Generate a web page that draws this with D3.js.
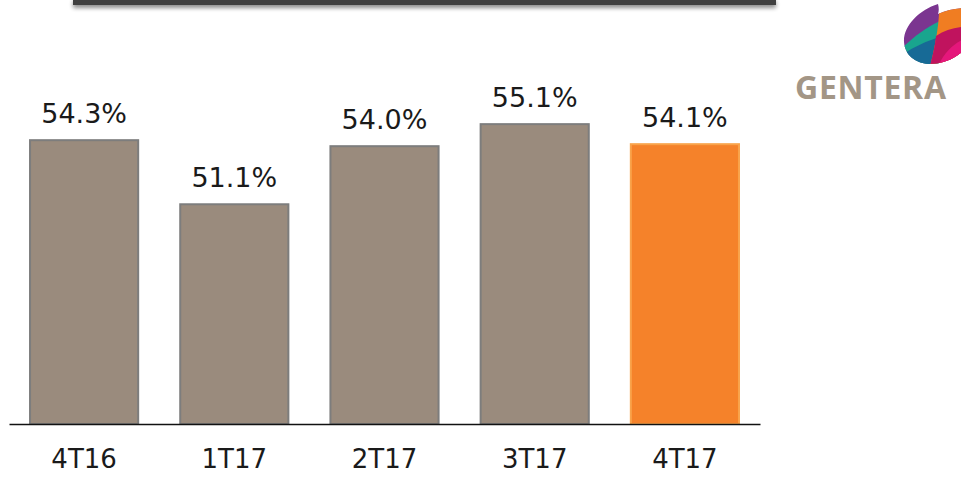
<!DOCTYPE html>
<html>
<head>
<meta charset="utf-8">
<script src="https://cdn.jsdelivr.net/npm/d3@7/dist/d3.min.js"></script>
<style>
  html, body { margin: 0; padding: 0; background: #fff; }
  svg { display: block; }
</style>
</head>
<body>
<div id="chart"></div>
<script>
// quarters and margin values (%)
const quarters = ['4T16', '1T17', '2T17', '3T17', '4T17'];
const values = [54.3, 51.1, 54.0, 55.1, 54.1];
const highlight = '4T17';

const width = 961, height = 477;
const baseY = 424;

const svg = d3.select('#chart').append('svg')
    .attr('width', width)
    .attr('height', height);

const defs = svg.append('defs');
const shadow = defs.append('filter').attr('id', 'shadow')
    .attr('x', '-5%').attr('y', '-50%').attr('width', '110%').attr('height', '300%');
shadow.append('feGaussianBlur').attr('in', 'SourceAlpha').attr('stdDeviation', 2);
shadow.append('feOffset').attr('dx', 0).attr('dy', 3).attr('result', 'b');
shadow.append('feComponentTransfer').append('feFuncA').attr('type', 'linear').attr('slope', 0.45);
const merge = shadow.append('feMerge');
merge.append('feMergeNode');
merge.append('feMergeNode').attr('in', 'SourceGraphic');

// title bar at the top
svg.append('rect')
    .attr('x', 73).attr('y', -2)
    .attr('width', 703).attr('height', 7)
    .attr('fill', '#3f3f3f')
    .attr('filter', 'url(#shadow)');

const x = d3.scaleBand()
    .domain(quarters)
    .range([9, 760])
    .paddingInner(0.28)
    .paddingOuter(0.14);

// baseline sits at ~40.1%, about 20 px per point
const y = d3.scaleLinear()
    .domain([40.13, 60])
    .range([baseY, baseY - (60 - 40.13) * 20.03]);

const g = svg.append('g');

g.selectAll('.bar')
    .data(quarters)
    .enter()
    .append('rect')
    .attr('class', 'bar')
    .attr('x', d => x(d))
    .attr('y', (d, i) => y(values[i]))
    .attr('width', x.bandwidth())
    .attr('height', (d, i) => baseY - y(values[i]))
    .attr('fill', d => d === highlight ? '#f5822a' : '#9a8b7d')
    .attr('stroke', d => d === highlight ? '#f9a34a' : '#7d7d7d')
    .attr('stroke-width', 2);

g.selectAll('.val')
    .data(quarters)
    .enter()
    .append('text')
    .attr('class', 'val')
    .attr('x', d => x(d) + x.bandwidth() / 2)
    .attr('y', (d, i) => y(values[i]) - 17)
    .attr('text-anchor', 'middle')
    .style('font-family', '"DejaVu Sans", Verdana, sans-serif')
    .style('font-size', '27px')
    .attr('fill', '#1a1a1a')
    .text((d, i) => values[i].toFixed(1) + '%');

// baseline with category labels
const axis = svg.append('g')
    .attr('transform', `translate(0,${baseY})`)
    .call(d3.axisBottom(x).tickSize(0).tickPadding(26));
axis.select('.domain')
    .attr('stroke', '#111')
    .attr('stroke-width', 1.5);
axis.selectAll('text')
    .style('font-family', '"DejaVu Sans", Verdana, sans-serif')
    .style('font-size', '26px')
    .attr('fill', '#1a1a1a');

// logo
const logo = svg.append('g');
const clip = defs.append('clipPath').attr('id', 'leaf');
clip.append('path')
    .attr('d', 'M929,64 C915,63 905,55 904,42 C903,26 919,10 938,4 C939,8 939,11 938,14 C946,10 954,9 962,8 L962,52 C953,60 942,64 929,64 Z');
const leaf = logo.append('g').attr('clip-path', 'url(#leaf)');
// purple base
leaf.append('rect').attr('x', 900).attr('y', 0).attr('width', 62).attr('height', 70).attr('fill', '#7b3590');
// teal band
leaf.append('path').attr('d', 'M900,50 C912,38 925,28 940,21 L940,70 L900,70 Z').attr('fill', '#19a58e');
// blue lower left
leaf.append('path').attr('d', 'M900,56 C912,48 926,41 940,37 L940,70 L900,70 Z').attr('fill', '#176a96');
// orange upper right
leaf.append('path').attr('d', 'M939,14 C938,30 935,48 929,70 L962,70 L962,0 L940,0 Z').attr('fill', '#f07d22');
// crimson middle right
leaf.append('path').attr('d', 'M936,36 C944,31 952,28 962,27 L962,70 L929,70 C932,58 935,47 936,36 Z').attr('fill', '#c0135e');
// pink lower right
leaf.append('path').attr('d', 'M937,70 C941,57 950,46 962,40 L962,70 Z').attr('fill', '#e5177b');

logo.append('text')
    .attr('x', 795).attr('y', 99)
    .attr('textLength', 151)
    .attr('lengthAdjust', 'spacing')
    .style('font-family', '"Open Sans", sans-serif')
    .style('font-weight', 'bold')
    .style('font-size', '32px')
    .attr('fill', '#a39686')
    .text('GENTERA');
</script>
</body>
</html>
